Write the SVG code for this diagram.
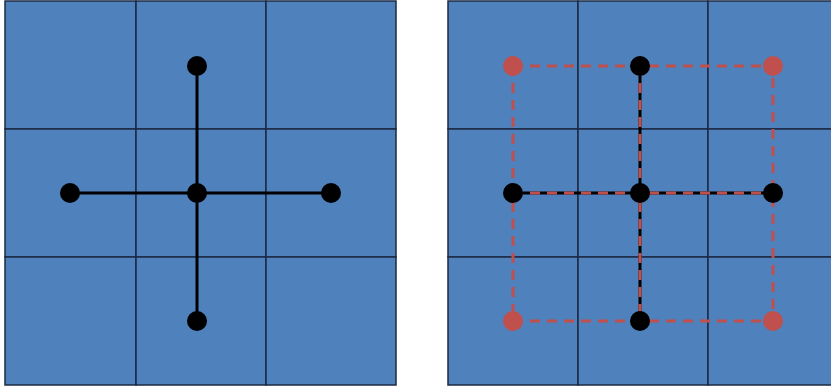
<svg xmlns="http://www.w3.org/2000/svg" width="831" height="391" viewBox="0 0 831 391">
<defs>
<style>
.cell{fill:#4F81BD;stroke:#1C2A44;stroke-width:1.5}
.solid{stroke:#000;stroke-width:3;fill:none}
.dash{stroke:#C0504D;stroke-width:3;fill:none;stroke-dasharray:10 7}
.bk{fill:#000}
.rd{fill:#C0504D}
</style>
</defs>
<g id="grid-left">
<rect class="cell" x="5" y="1" width="131" height="128"/>
<rect class="cell" x="136" y="1" width="130" height="128"/>
<rect class="cell" x="266" y="1" width="130" height="128"/>
<rect class="cell" x="5" y="129" width="131" height="128"/>
<rect class="cell" x="136" y="129" width="130" height="128"/>
<rect class="cell" x="266" y="129" width="130" height="128"/>
<rect class="cell" x="5" y="257" width="131" height="128"/>
<rect class="cell" x="136" y="257" width="130" height="128"/>
<rect class="cell" x="266" y="257" width="130" height="128"/>
</g>
<g id="grid-right">
<rect class="cell" x="448" y="1" width="130" height="128"/>
<rect class="cell" x="578" y="1" width="130" height="128"/>
<rect class="cell" x="708" y="1" width="130" height="128"/>
<rect class="cell" x="448" y="129" width="130" height="128"/>
<rect class="cell" x="578" y="129" width="130" height="128"/>
<rect class="cell" x="708" y="129" width="130" height="128"/>
<rect class="cell" x="448" y="257" width="130" height="128"/>
<rect class="cell" x="578" y="257" width="130" height="128"/>
<rect class="cell" x="708" y="257" width="130" height="128"/>
</g>
<g id="connectors">
<line class="solid" x1="197" y1="66" x2="197" y2="321"/>
<line class="solid" x1="70" y1="193" x2="331" y2="193"/>
<line class="solid" x1="640" y1="66" x2="640" y2="321"/>
<line class="solid" x1="513" y1="193" x2="773" y2="193"/>
<rect class="dash" x="513" y="66" width="260" height="255"/>
<line class="dash" x1="640" y1="66" x2="640" y2="321"/>
<line class="dash" x1="513" y1="193" x2="773" y2="193"/>
</g>
<g id="nodes-left">
<circle class="bk" cx="197" cy="66" r="10"/>
<circle class="bk" cx="70" cy="193" r="10"/>
<circle class="bk" cx="197" cy="193" r="10"/>
<circle class="bk" cx="331" cy="193" r="10"/>
<circle class="bk" cx="197" cy="321" r="10"/>
</g>
<g id="nodes-right">
<circle class="rd" cx="513" cy="66" r="10"/>
<circle class="bk" cx="640" cy="66" r="10"/>
<circle class="rd" cx="773" cy="66" r="10"/>
<circle class="bk" cx="513" cy="193" r="10"/>
<circle class="bk" cx="640" cy="193" r="10"/>
<circle class="bk" cx="773" cy="193" r="10"/>
<circle class="rd" cx="513" cy="321" r="10"/>
<circle class="bk" cx="640" cy="321" r="10"/>
<circle class="rd" cx="773" cy="321" r="10"/>
</g>
</svg>
